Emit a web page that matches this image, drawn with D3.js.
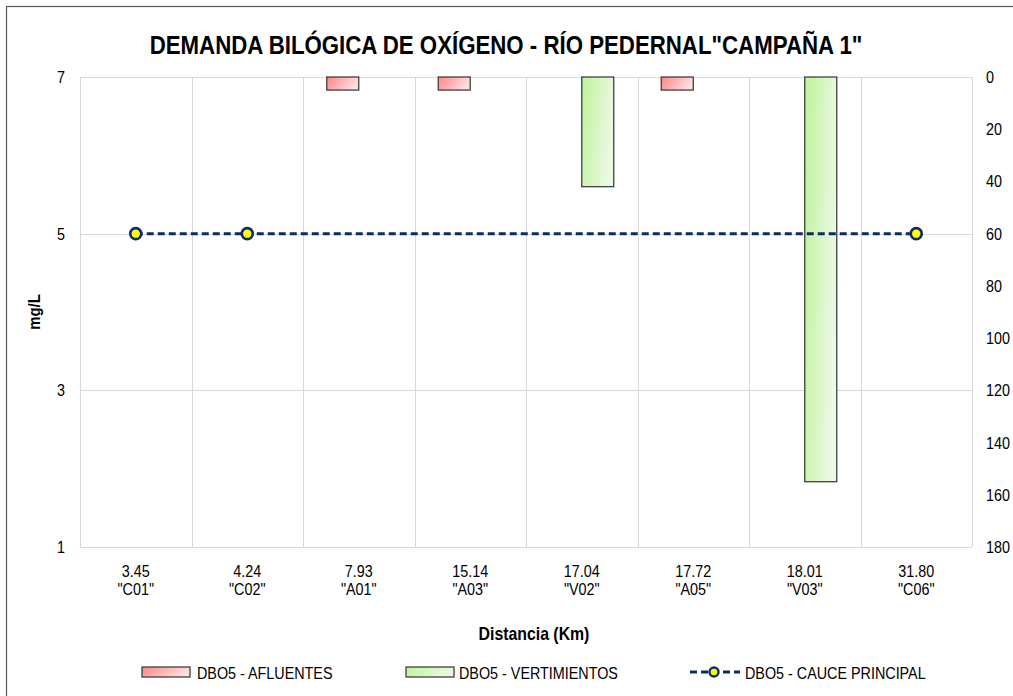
<!DOCTYPE html>
<html>
<head>
<meta charset="utf-8">
<script src="https://cdn.jsdelivr.net/npm/d3@7/dist/d3.min.js"></script>
<style>
  html, body { margin: 0; padding: 0; background: #fff; }
  svg { display: block; }
  text { font-family: "Liberation Sans", Arial, sans-serif; fill: #000; }
</style>
</head>
<body>
<svg id="chart" width="1013" height="696"></svg>
<script>
// Sampling stations along the river
const distances = ["3.45", "4.24", "7.93", "15.14", "17.04", "17.72", "18.01", "31.80"];
const stations  = ["C01", "C02", "A01", "A03", "V02", "A05", "V03", "C06"];

// DBO5 values (mg/L) per series; null = no sample of that type at the station
const afluentes    = [null, null, 5, 5, null, 5, null, null];      // right axis
const vertimientos = [null, null, null, null, 42, null, 155, null]; // right axis
const caucePrincipal = [5, 5, null, null, null, null, null, 5];     // left axis

const leftTicks  = [1, 3, 5, 7];
const rightTicks = [0, 20, 40, 60, 80, 100, 120, 140, 160, 180];

const svg = d3.select("#chart");
const W = 1013, H = 696;
const plot = { left: 80, right: 972, top: 77, bottom: 547 };
const NARROW = 0.87; // horizontal squeeze for a narrow sans look

// Text placed at (x, y) and squeezed horizontally around its anchor point
function label(parent, x, y, str, opts = {}) {
  return parent.append("text")
    .attr("transform", `translate(${x},${y}) scale(${opts.squeeze || NARROW},1)`)
    .attr("text-anchor", opts.anchor || "start")
    .style("font-size", (opts.size || 16.5) + "px")
    .style("font-weight", opts.bold ? "bold" : "normal")
    .text(str);
}

const defs = svg.append("defs");
function grad(id, c0, c1) {
  const g = defs.append("linearGradient").attr("id", id)
    .attr("x1", "0%").attr("y1", "0%").attr("x2", "100%").attr("y2", "30%");
  g.append("stop").attr("offset", "0%").attr("stop-color", c0);
  g.append("stop").attr("offset", "100%").attr("stop-color", c1);
}
grad("gRed", "#ff8585", "#ffdede");
grad("gGreen", "#bff299", "#ebf9e3");

// Outer chart frame
svg.append("rect").attr("x", 6.5).attr("y", 6.5).attr("width", W + 20).attr("height", H + 20)
  .attr("fill", "#fff").attr("stroke", "#595959").attr("stroke-width", 1.2);

const keys = stations.map((s, i) => i);
const x = d3.scaleBand().domain(keys).range([plot.left, plot.right]).paddingInner(0).paddingOuter(0);
const yL = d3.scaleLinear().domain([1, 7]).range([plot.bottom, plot.top]);
const yR = d3.scaleLinear().domain([0, 180]).range([plot.top, plot.bottom]);
const cx = i => x(i) + x.bandwidth() / 2;

// Horizontal gridlines
svg.append("g").selectAll("line").data(leftTicks).join("line")
  .attr("x1", plot.left).attr("x2", plot.right)
  .attr("y1", d => Math.round(yL(d)) + 0.5).attr("y2", d => Math.round(yL(d)) + 0.5)
  .attr("stroke", "#d9d9d9").attr("stroke-width", 1);

// Vertical gridlines between categories
svg.append("g").selectAll("line").data(d3.range(0, stations.length + 1)).join("line")
  .attr("x1", d => Math.round(plot.left + d * x.bandwidth()) + 0.5)
  .attr("x2", d => Math.round(plot.left + d * x.bandwidth()) + 0.5)
  .attr("y1", plot.top).attr("y2", plot.bottom)
  .attr("stroke", "#d9d9d9").attr("stroke-width", 1);

// Grouped bars: afluentes on the left half, vertimientos on the right half of each slot
const barW = 32;
function drawBars(values, side, fill) {
  svg.append("g").selectAll("rect")
    .data(values.map((v, i) => ({ v, i })).filter(d => d.v != null))
    .join("rect")
    .attr("x", d => side === "left" ? cx(d.i) - barW : cx(d.i))
    .attr("y", yR(0))
    .attr("width", barW)
    .attr("height", d => yR(d.v) - yR(0))
    .attr("fill", fill)
    .attr("stroke", "#404040").attr("stroke-width", 1.3);
}
drawBars(afluentes, "left", "url(#gRed)");
drawBars(vertimientos, "right", "url(#gGreen)");

// Main channel line (dashed) with markers
const linePts = caucePrincipal.map((v, i) => ({ v, i })).filter(d => d.v != null);
svg.append("path").datum(linePts)
  .attr("d", d3.line().x(d => cx(d.i)).y(d => yL(d.v)))
  .attr("fill", "none").attr("stroke", "#0f2a68").attr("stroke-width", 3)
  .attr("stroke-dasharray", "7,4");
svg.append("g").selectAll("circle").data(linePts).join("circle")
  .attr("cx", d => cx(d.i)).attr("cy", d => yL(d.v)).attr("r", 5.5)
  .attr("fill", "#ffff00").attr("stroke", "#0f2a68").attr("stroke-width", 2.6);

// Axis tick labels
const axes = svg.append("g");
leftTicks.forEach(t => label(axes, 65, yL(t) + 6, d3.format("d")(t), { anchor: "end" }));
rightTicks.forEach(t => label(axes, 986, yR(t) + 6, d3.format("d")(t)));

// Category labels: distance and station code
const cats = svg.append("g");
keys.forEach(i => {
  label(cats, cx(i), 577, distances[i], { anchor: "middle" });
  label(cats, cx(i), 595, `"${stations[i]}"`, { anchor: "middle" });
});

// Titles
label(svg, 506, 54, 'DEMANDA BILÓGICA DE OXÍGENO - RÍO PEDERNAL"CAMPAÑA 1"', { anchor: "middle", size: 25, bold: true, squeeze: 0.89 });
label(svg, 534, 640, "Distancia (Km)", { anchor: "middle", size: 18, bold: true, squeeze: 0.88 });
svg.append("text").attr("transform", `translate(40,312) rotate(-90) scale(0.88,1)`)
  .attr("text-anchor", "middle").style("font-size", "17px").style("font-weight", "bold").text("mg/L");

// Legend
const lg = svg.append("g");
lg.append("rect").attr("x", 142).attr("y", 667).attr("width", 48).attr("height", 10)
  .attr("fill", "url(#gRed)").attr("stroke", "#404040").attr("stroke-width", 1.3);
label(lg, 197, 679, "DBO5 - AFLUENTES");
lg.append("rect").attr("x", 406).attr("y", 667).attr("width", 48).attr("height", 10)
  .attr("fill", "url(#gGreen)").attr("stroke", "#404040").attr("stroke-width", 1.3);
label(lg, 459, 679, "DBO5 - VERTIMIENTOS");
lg.append("line").attr("x1", 690).attr("x2", 740).attr("y1", 672).attr("y2", 672)
  .attr("stroke", "#0f2a68").attr("stroke-width", 3).attr("stroke-dasharray", "7,4");
lg.append("circle").attr("cx", 714).attr("cy", 672).attr("r", 4.5)
  .attr("fill", "#ffff00").attr("stroke", "#0f2a68").attr("stroke-width", 2.4);
label(lg, 745, 679, "DBO5 - CAUCE  PRINCIPAL");
</script>
</body>
</html>
